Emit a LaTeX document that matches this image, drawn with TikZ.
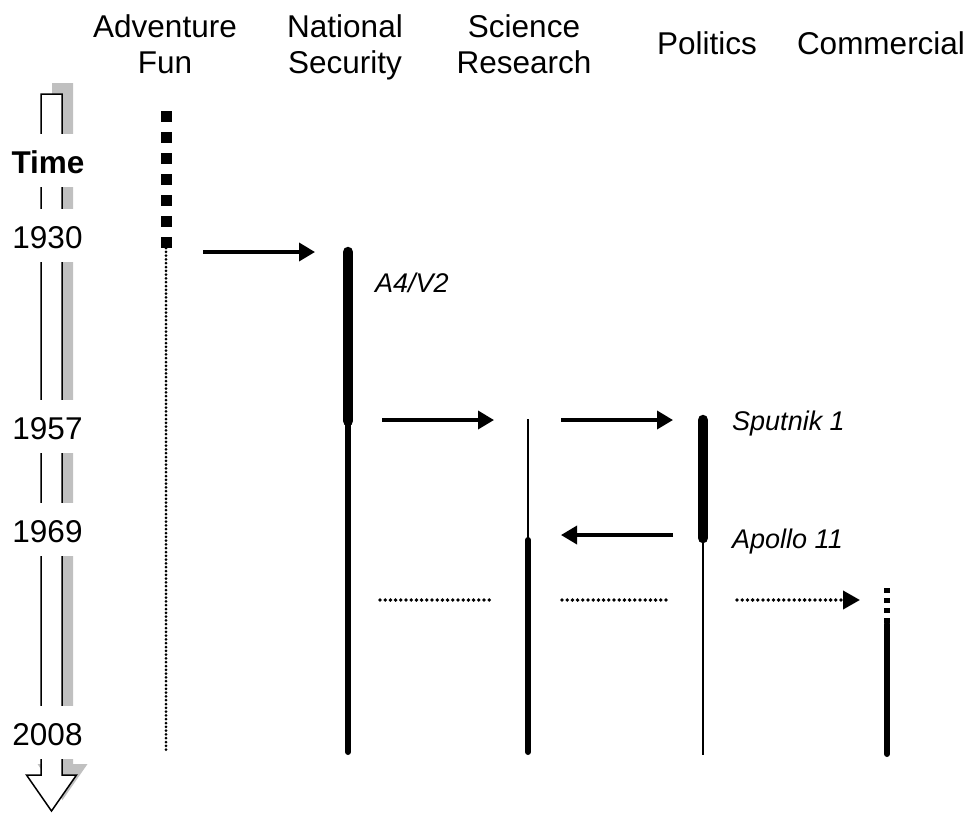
\documentclass[tikz,border=0pt]{standalone}
\usepackage{fontspec}
\setmainfont{Liberation Sans}
\usetikzlibrary{arrows.meta}
\definecolor{shadowgray}{RGB}{192,192,192}
\tikzset{
  head/.style={font=\fontsize{31.5}{36}\selectfont, align=center, anchor=north, inner sep=0pt},
  year/.style={font=\fontsize{31.5}{36}\selectfont, fill=white, inner sep=0pt,
               text height=39pt, text depth=14pt, minimum width=86pt, anchor=base},
  event/.style={font=\fontsize{27}{32}\selectfont\itshape, inner sep=0pt, anchor=base west},
  flow/.style={line width=3.5pt, -{Triangle[length=16pt,width=18pt]}},
  dotflow/.style={line width=3.8pt, line cap=round, dash pattern=on 0pt off 5.2pt},
  dotlane/.style={line width=3pt, line cap=round, dash pattern=on 0pt off 3.8pt},
  boldlane/.style={line width=10.5pt, line cap=round},
  midlane/.style={line width=6pt, line cap=round},
  thinlane/.style={line width=2pt},
}
\begin{document}
\begin{tikzpicture}[x=1pt,y=-1pt]
\useasboundingbox (0,0) rectangle (971,814);

% time axis: block arrow with a drop shadow
\fill[shadowgray] (52,83) -- (73,83) -- (73,764) -- (87.5,764) -- (62.5,800) -- (37.5,764) -- (52,764) -- cycle;
\draw[line width=1.5pt, fill=white, line join=miter]
  (41,94) -- (62,94) -- (62,775) -- (76.5,775) -- (51.5,811) -- (26.5,775) -- (41,775) -- cycle;
\node[year, font=\fontsize{31.5}{36}\selectfont\bfseries] (t-label) at (48,173) {Time};
\node[year] (y1930) at (47.5,248) {1930};
\node[year] (y1957) at (47.5,439) {1957};
\node[year] (y1969) at (47.5,542) {1969};
\node[year] (y2008) at (47.5,745) {2008};

% column headings
\node[head] (h-adv) at (165,14) {Adventure\\Fun};
\node[head] (h-nat) at (345,14) {National\\Security};
\node[head] (h-sci) at (524,14) {Science\\Research};
\node[head] (h-pol) at (707,31) {Politics};
\node[head] (h-com) at (881,31) {Commercial};

% lane end points
\coordinate (adv-a) at (166,111);
\coordinate (adv-b) at (166,248);
\coordinate (adv-c) at (166,753);
\coordinate (nat-a) at (348,252);
\coordinate (nat-b) at (348,421);
\coordinate (nat-c) at (348,752);
\coordinate (sci-a) at (528,419);
\coordinate (sci-b) at (528,540);
\coordinate (sci-c) at (528,752);
\coordinate (pol-a) at (703,420);
\coordinate (pol-b) at (703,538);
\coordinate (pol-c) at (703,755);
\coordinate (com-a) at (887,588);
\coordinate (com-b) at (887,624);
\coordinate (com-c) at (887,754);

% lanes
\draw[line width=11pt, dash pattern=on 11pt off 10pt] (adv-a) -- (adv-b);
\draw[dotlane] (adv-b) -- (adv-c);
\draw[boldlane] (nat-a) -- (nat-b);
\draw[midlane] (nat-b) -- (nat-c);
\draw[thinlane] (sci-a) -- (sci-b);
\draw[midlane] (sci-b) -- (sci-c);
\draw[boldlane] (pol-a) -- (pol-b);
\draw[thinlane] (pol-b) -- (pol-c);
\draw[line width=6pt, dash pattern=on 5pt off 5pt] (com-a) -- (com-b);
\draw[midlane] (com-b) -- (com-c);

% transfers between lanes
\coordinate (f1a) at (203,252); \coordinate (f1b) at (315,252);
\coordinate (f2a) at (382,420); \coordinate (f2b) at (494,420);
\coordinate (f3a) at (561,420); \coordinate (f3b) at (673,420);
\coordinate (f4a) at (673,535); \coordinate (f4b) at (561,535);
\coordinate (d1a) at (380,600); \coordinate (d1b) at (494,600);
\coordinate (d2a) at (562,600); \coordinate (d2b) at (669,600);
\coordinate (d3a) at (737,600); \coordinate (d3b) at (860,600);
\draw[flow] (f1a) -- (f1b);
\draw[flow] (f2a) -- (f2b);
\draw[flow] (f3a) -- (f3b);
\draw[flow] (f4a) -- (f4b);
\draw[dotflow] (d1a) -- (d1b);
\draw[dotflow] (d2a) -- (d2b);
\draw[dotflow, -{Triangle[length=17pt,width=18pt]}] (d3a) -- (d3b);

% events
\node[event] (e-v2) at (375,292) {A4/V2};
\node[event] (e-sput) at (732,430) {Sputnik 1};
\node[event] (e-apol) at (732,548) {Apollo 11};
\end{tikzpicture}
\end{document}
